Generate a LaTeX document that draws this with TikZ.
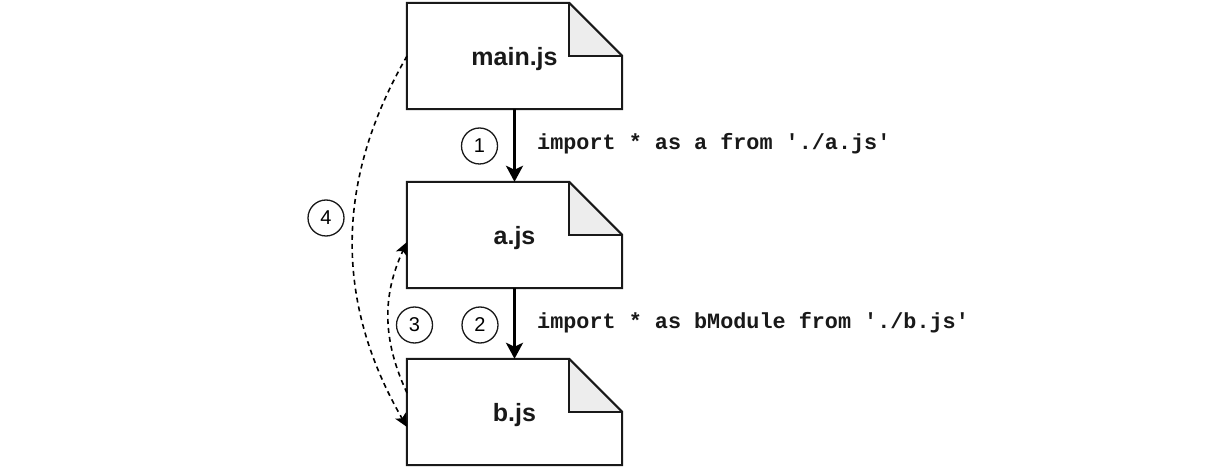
\documentclass[tikz,border=0pt]{standalone}
\usepackage{fontspec}
\setmainfont{Liberation Sans}
\newfontfamily\codefont{Liberation Mono}
\usetikzlibrary{arrows.meta}
\tikzset{
  x=1pt, y=1pt,
  docbox/.style={minimum width=215pt, minimum height=106pt, inner sep=0pt, draw=none},
  doclabel/.style={inner sep=0pt, font=\fontsize{25}{28}\selectfont\bfseries, text=black!90},
  stepnum/.style={circle, draw=black!90, line width=1.3pt, minimum size=36pt, inner sep=0pt,
    font=\fontsize{20}{22}\selectfont},
  codelabel/.style={anchor=mid west, inner sep=0pt, font=\codefont\bfseries\fontsize{21.8}{24}\selectfont, text=black!90},
  mainarrow/.style={line width=3pt, -{Stealth[length=16pt,width=17pt,inset=4pt]}},
  dasharrow/.style={line width=1.6pt, dash pattern=on 5pt off 4pt, -{Stealth[length=13pt,width=12pt,inset=3pt]}},
}
\newcommand\docfold[1]{%
  \fill[black!7] ([xshift=-53pt]#1.north east) -- ([xshift=-53pt,yshift=-53pt]#1.north east) -- ([yshift=-53pt]#1.north east) -- cycle;
  \draw[line width=2pt, black!90, line join=miter]
    (#1.north west) -- ([xshift=-53pt]#1.north east) -- ([yshift=-53pt]#1.north east)
    -- (#1.south east) -- (#1.south west) -- cycle;
  \draw[line width=2pt, black!90, line join=miter]
    ([xshift=-53pt]#1.north east) -- ([xshift=-53pt,yshift=-53pt]#1.north east) -- ([yshift=-53pt]#1.north east);
}
\begin{document}
\begin{tikzpicture}
\useasboundingbox (0,0) rectangle (1210,474);
\fill[white] (0,0) rectangle (1210,474);
\node[docbox] (m) at (514.5,418) {};
\node[docbox] (a) at (514.5,239) {};
\node[docbox] (b) at (514.5,62) {};
\docfold{m}\docfold{a}\docfold{b}
\node[doclabel] (tm) at ([yshift=-3pt]m.center) {main.js};
\node[doclabel] (ta) at ([yshift=-3pt]a.center) {a.js};
\node[doclabel] (tb) at ([yshift=-3pt]b.center) {b.js};

\draw[mainarrow] (m.south) -- (a.north);
\draw[mainarrow] (a.south) -- (b.north);

\node[stepnum] (n1) at (479.5,328) {1};
\node[stepnum] (n2) at (480,149) {2};
\node[stepnum] (n3) at (414.5,149) {3};
\node[stepnum] (n4) at (326,256) {4};

\node[codelabel] (l1) at (537,327.5) {import * as a from './a.js'};
\node[codelabel] (l2) at (537,148.5) {import * as bModule from './b.js'};

\coordinate (m4) at (407,418);
\coordinate (b4) at (407,47);
\coordinate (b3) at (407,81);
\coordinate (a3) at (407,232);
\draw[dasharrow] (m4) to[bend right=30] (b4);
\draw[dasharrow] (b3) to[bend left=25] (a3);
\end{tikzpicture}
\end{document}
